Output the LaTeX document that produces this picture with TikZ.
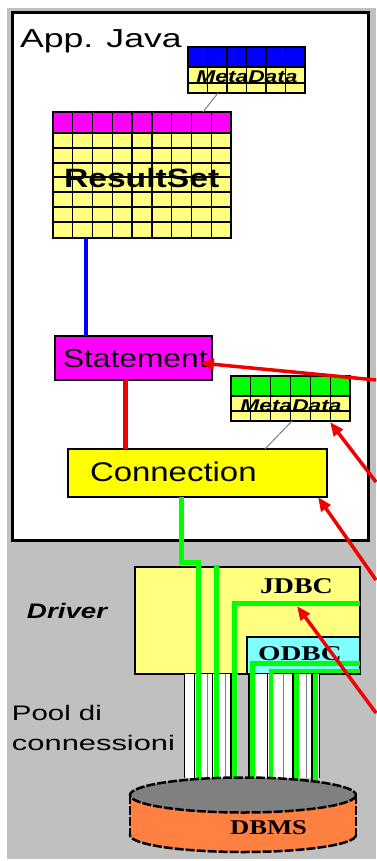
\documentclass[tikz,border=0pt]{standalone}
\usepackage{fontspec}
\setmainfont{Liberation Serif}
\setsansfont{Liberation Sans}
\usepackage{graphicx}
\usetikzlibrary{arrows.meta,shapes.geometric}
\definecolor{bggrey}{HTML}{C0C0C0}
\definecolor{paleyellow}{HTML}{FFFF80}
\definecolor{mag}{HTML}{FF00FF}
\definecolor{gr}{HTML}{00FF00}
\definecolor{cy}{HTML}{80FFFF}
\definecolor{orng}{HTML}{FF8040}
\definecolor{dbgrey}{HTML}{808080}
\definecolor{redline}{HTML}{F00000}
\definecolor{blueline}{HTML}{0000FF}
\definecolor{yel}{HTML}{FFFF00}
\newcommand\setfs[1]{\fontsize{#1}{#1}\selectfont}
\begin{document}
\begin{tikzpicture}[x=1pt,y=-1pt,
  region/.style={inner sep=0pt,outer sep=0pt,anchor=north west},
  frame/.style={draw=black,line width=2pt},
  gridline/.style={draw=black,line width=1.3pt},
  pipe/.style={draw=gr,line width=5pt,line join=miter},
  shadow/.style={draw=black,line width=1.8pt},
  thinlink/.style={draw=dbgrey,line width=1pt},
  pointer/.style={draw=redline,line width=3.5pt,-{Triangle[length=14pt,width=11pt]}},
  lbl/.style={inner sep=0pt,outer sep=0pt,anchor=base west,font=\sffamily},
  dblbl/.style={inner sep=0pt,outer sep=0pt,anchor=base west,font=\rmfamily\bfseries},
  dbline/.style={draw=black,line width=2.5pt,dash pattern=on 9pt off 2pt},
]
\useasboundingbox (0,0) rectangle (376,861);
\fill[white] (0,0) rectangle (376,861);
\fill[bggrey] (7,8) rectangle (376,859);

% application frame
\node[region,frame,line width=3pt,fill=white,minimum width=356pt,minimum height=527pt] (app) at (12,13) {};
\node[lbl] (appLabel) at (20,48) {\setfs{26}\scalebox{1.37}[1]{App. Java}};

% top MetaData table
\node[region,minimum width=117pt,minimum height=46pt] (meta1) at (188,47) {};
\fill[paleyellow] (188,47) rectangle (305,93);
\fill[blueline] (188,47) rectangle (305,67);
\node[lbl,anchor=base,font=\sffamily\bfseries\itshape] (meta1Label) at (247,83) {\setfs{17}\scalebox{1.34}[1]{MetaData}};
\foreach \i in {1,...,5} \draw[gridline] ({188+\i*19.5},47) -- ({188+\i*19.5},93);
\foreach \y in {67,83} \draw[gridline] (188,\y) -- (305,\y);
\draw[gridline,line width=1.5pt] (188,47) rectangle (305,93);

% ResultSet table
\node[region,minimum width=178pt,minimum height=126pt] (rs) at (53,112) {};
\fill[paleyellow] (53,112) rectangle (231,238);
\fill[mag] (53,112) rectangle (231,133);
\foreach \i in {1,...,8} \draw[gridline] ({53+\i*178/9},112) -- ({53+\i*178/9},238);
\foreach \y in {133,148,163,177,192,207,222} \draw[gridline] (53,\y) -- (231,\y);
\draw[gridline,line width=1.5pt] (53,112) rectangle (231,238);
\node[lbl,font=\sffamily\bfseries] (rsLabel) at (64,187) {\setfs{26.5}\scalebox{1.27}[1]{ResultSet}};

\draw[thinlink] ([xshift=30pt]meta1.south west) -- ([xshift=150pt]rs.north west);

% Statement
\node[region,frame,fill=mag,minimum width=157pt,minimum height=44pt] (stmt) at (55,336) {};
\node[lbl] (stmtLabel) at (63,367) {\setfs{26}\scalebox{1.22}[1]{Statement}};
\draw[blueline,line width=4pt] ([xshift=33pt]rs.south west) -- ([xshift=31pt]stmt.north west);

% green MetaData table
\node[region,minimum width=119pt,minimum height=45pt] (meta2) at (231,376) {};
\fill[paleyellow] (231,376) rectangle (350,421);
\fill[gr] (231,376) rectangle (350,396);
\node[lbl,anchor=base,font=\sffamily\bfseries\itshape] (meta2Label) at (291,411) {\setfs{17}\scalebox{1.34}[1]{MetaData}};
\foreach \i in {1,...,5} \draw[gridline] ({231+\i*119/6},376) -- ({231+\i*119/6},421);
\foreach \y in {396,411} \draw[gridline] (231,\y) -- (350,\y);
\draw[gridline,line width=1.5pt] (231,376) rectangle (350,421);

% Connection
\node[region,frame,fill=yel,minimum width=259pt,minimum height=48pt] (conn) at (68,449) {};
\node[lbl] (connLabel) at (90,481) {\setfs{27}\scalebox{1.22}[1]{Connection}};
\draw[redline,line width=5pt] ([xshift=70pt]stmt.south west) -- ([xshift=57pt]conn.north west);
\draw[thinlink] ([xshift=61pt]meta2.south west) -- ([xshift=197pt]conn.north west);

% labels outside
\node[lbl,font=\sffamily\bfseries\itshape] (drvLabel) at (27,618) {\setfs{21}\scalebox{1.32}[1]{Driver}};
\node[lbl] (poolLabel) at (12,720) {\setfs{21}\scalebox{1.40}[1]{Pool di}};
\node[lbl] (poolLabel2) at (12,750) {\setfs{21}\scalebox{1.47}[1]{connessioni}};

% Driver
\node[region,frame,fill=paleyellow,minimum width=225pt,minimum height=107pt] (drv) at (135,567) {};
\node[region,frame,fill=cy,minimum width=113pt,minimum height=37pt] (odbc) at (247,637) {};
\node[dblbl] (jdbcLabel) at (260,593) {\setfs{22.5}\scalebox{1.24}[1]{JDBC}};
\node[dblbl] (odbcLabel) at (258,660) {\setfs{21}\scalebox{1.38}[1]{ODBC}};

% pool tubes
\fill[white] (184,674) rectangle (238,778);
\fill[white] (248,674) rectangle (320,778);
\draw[black,line width=1.5pt] (184.5,674) -- (184.5,778);
\draw[black,line width=1.5pt] (319.5,674) -- (319.5,778);
\foreach \x in {207,225,267,283,306} \draw[dbgrey,line width=0.8pt] (\x,674) -- (\x,778);
\foreach \x in {198,216,234.5,252.5,271,296.5,315.5} \draw[shadow] (\x-3.6,674) -- (\x-3.6,780);

% connections through the driver
\draw[pipe] ([xshift=113pt]conn.south west) -- ++(0,65) -- ++(17,0) -- (198,784);
\draw[pipe] ([xshift=81pt,yshift=2pt]drv.north west) -- (216,784);
\draw[pipe] ([yshift=-36pt]drv.north east) -| (234.5,784);
\draw[pipe] ([yshift=-26pt]odbc.north east) -| (252.5,784);
\draw[pipe,line width=4pt] ([yshift=-34pt]odbc.north east) -| (271,784);
\draw[pipe] ([xshift=49.5pt]odbc.south west) -- (296.5,784);
\draw[pipe] ([xshift=68.5pt]odbc.south west) -- (315.5,784);

% DBMS cylinder
\fill[orng] (243,835) ellipse [x radius=113, y radius=17];
\draw[dbline] (243,835) ellipse [x radius=113, y radius=17];
\fill[orng] (130,795) rectangle (356,835);
\draw[dbline] (130,795) -- (130,836);
\draw[dbline] (356,795) -- (356,836);
\node[inner sep=0pt,outer sep=0pt,ellipse,minimum width=226pt,minimum height=35pt,fill=dbgrey] (db) at (243,795) {};
\draw[dbline] (243,795) ellipse [x radius=113, y radius=17.5];
\node[dblbl] (dbLabel) at (230,834) {\setfs{21}\scalebox{1.27}[1]{DBMS}};

% red pointers
\coordinate (p1) at (376,380);
\coordinate (p2) at (376,482);
\coordinate (p3) at (376,580);
\coordinate (p4) at (376,713);
\coordinate (t1) at ([xshift=-12pt,yshift=-27pt]stmt.north east);
\coordinate (t2) at ([xshift=-20pt,yshift=-1pt]meta2.south east);
\coordinate (t3) at ([xshift=-9pt]conn.south east);
\coordinate (t4) at ([xshift=-63pt,yshift=-39pt]drv.north east);
\draw[pointer] (p1) -- (t1);
\draw[pointer] (p2) -- (t2);
\draw[pointer] (p3) -- (t3);
\draw[pointer] (p4) -- (t4);
\end{tikzpicture}
\end{document}
